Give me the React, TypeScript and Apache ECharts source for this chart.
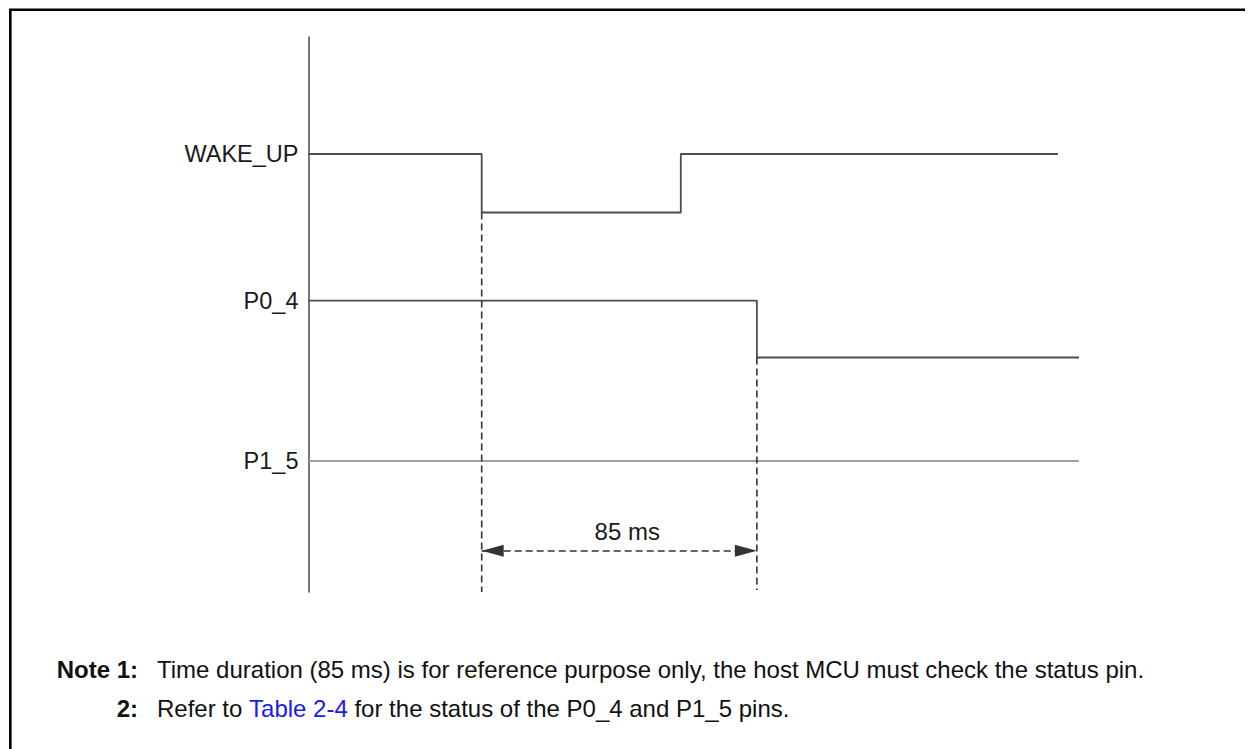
import React, { useEffect, useRef } from "react";
import * as echarts from "echarts";

// ---- data (time in ms, level in arbitrary units) ----
const signalNames = ["WAKE_UP", "P0_4", "P1_5"];
const signalLevels = [438, 291.3, 131];
const wakeUpX = [0, 53.5, 53.5, 115, 115, 231.5];
const wakeUpY = [438, 438, 379.5, 379.5, 438, 438];
const p04X = [0, 138.5, 138.5, 238];
const p04Y = [291.3, 291.3, 234.5, 234.5];
const p15X = [0, 238];
const p15Y = [131, 131];
const markerT = [53.5, 138.5];
const markerTop = [379.5, 234.5];
const markerBottom = [0, 2];
const durationLevel = 41.3;
const durationLabel = "85 ms";
const timeMax = 238;
const levelMax = 555;
const note1Label = "Note 1:";
const note1Text = "Time duration (85 ms) is for reference purpose only, the host MCU must check the status pin.";
const note2Label = "2:";
const note2Before = "Refer to ";
const note2Link = "Table 2-4";
const note2After = " for the status of the P0_4 and P1_5 pins.";

const FONT = '"Liberation Sans", Arial, Helvetica, sans-serif';

function zip(xs: number[], ys: number[]) {
  return xs.map((x, i) => [x, ys[i]]);
}

export default function App() {
  const ref = useRef<HTMLDivElement>(null);
  useEffect(() => {
    if (!ref.current) return;
    const chart = echarts.init(ref.current, undefined, { renderer: "svg" });
    const sigLine = { color: "#4d4d4d", width: 1.8 };
    const dashLine = { color: "#333", width: 1.6, type: [7, 4] as any };
    chart.setOption({
      animation: false,
      backgroundColor: "#fff",
      grid: { left: 300.5, top: 29, width: 770.5, height: 555 },
      xAxis: { type: "value", min: 0, max: timeMax, show: false },
      yAxis: {
        type: "value",
        min: 0,
        max: levelMax,
        axisLine: { show: true, onZero: false, lineStyle: { color: "#555", width: 1.6 } },
        axisTick: { show: false },
        splitLine: { show: false },
        axisLabel: {
          customValues: signalLevels,
          formatter: (v: number) => {
            const i = signalLevels.findIndex((l) => Math.abs(l - v) < 0.01);
            return i >= 0 ? signalNames[i] : "";
          },
          margin: 10,
          color: "#1a1a1a",
          fontSize: 23.5,
          fontFamily: FONT,
        },
      },
      series: [
        { type: "line", data: zip(wakeUpX, wakeUpY), symbol: "none", lineStyle: sigLine },
        { type: "line", data: zip(p04X, p04Y), symbol: "none", lineStyle: sigLine },
        { type: "line", data: zip(p15X, p15Y), symbol: "none", lineStyle: { color: "#a0a0a0", width: 2.2 } },
        ...markerT.map((t, i) => ({
          type: "line",
          data: [[t, markerTop[i]], [t, markerBottom[i]]],
          symbol: "none",
          lineStyle: dashLine,
        })),
        {
          type: "line",
          data: [],
          markLine: {
            silent: true,
            symbol: ["triangle", "triangle"],
            symbolSize: [12, 22],
            symbolOffset: [[0, 11], [0, 11]],
            lineStyle: { color: "#333", width: 1.6, type: [7, 4] },
            itemStyle: { color: "#111" },
            label: {
              show: true,
              position: "middle",
              formatter: durationLabel,
              color: "#1a1a1a",
              fontSize: 24,
              fontFamily: FONT,
              distance: 7,
              padding: [0, 0, 0, 16],
            },
            data: [[{ coord: [markerT[0], durationLevel] }, { coord: [markerT[1], durationLevel] }]],
          },
        },
      ],
      graphic: [
        {
          type: "polyline",
          shape: { points: [[2.3, 745], [2.3, 1.8], [1250, 1.8]] },
          style: { stroke: "#000", lineWidth: 2.6, fill: "none" },
          silent: true,
        },
        {
          type: "text",
          x: 130,
          y: 661,
          style: { text: note1Label, font: `bold 24px ${FONT}`, fill: "#111", textAlign: "right", textVerticalAlign: "middle" },
        },
        {
          type: "text",
          x: 149,
          y: 661,
          style: { text: note1Text, font: `24px ${FONT}`, fill: "#111", textAlign: "left", textVerticalAlign: "middle" },
        },
        {
          type: "text",
          x: 130,
          y: 700,
          style: { text: note2Label, font: `bold 24px ${FONT}`, fill: "#111", textAlign: "right", textVerticalAlign: "middle" },
        },
        {
          type: "text",
          x: 149,
          y: 700,
          style: {
            text: `${note2Before}{link|${note2Link}}${note2After}`,
            font: `24px ${FONT}`,
            fill: "#111",
            textAlign: "left",
            textVerticalAlign: "middle",
            rich: { link: { fill: "#1a1aee", font: `24px ${FONT}` } },
          },
        },
      ],
    });
    return () => chart.dispose();
  }, []);
  return <div ref={ref} style={{ width: 1245, height: 741 }} />;
}
